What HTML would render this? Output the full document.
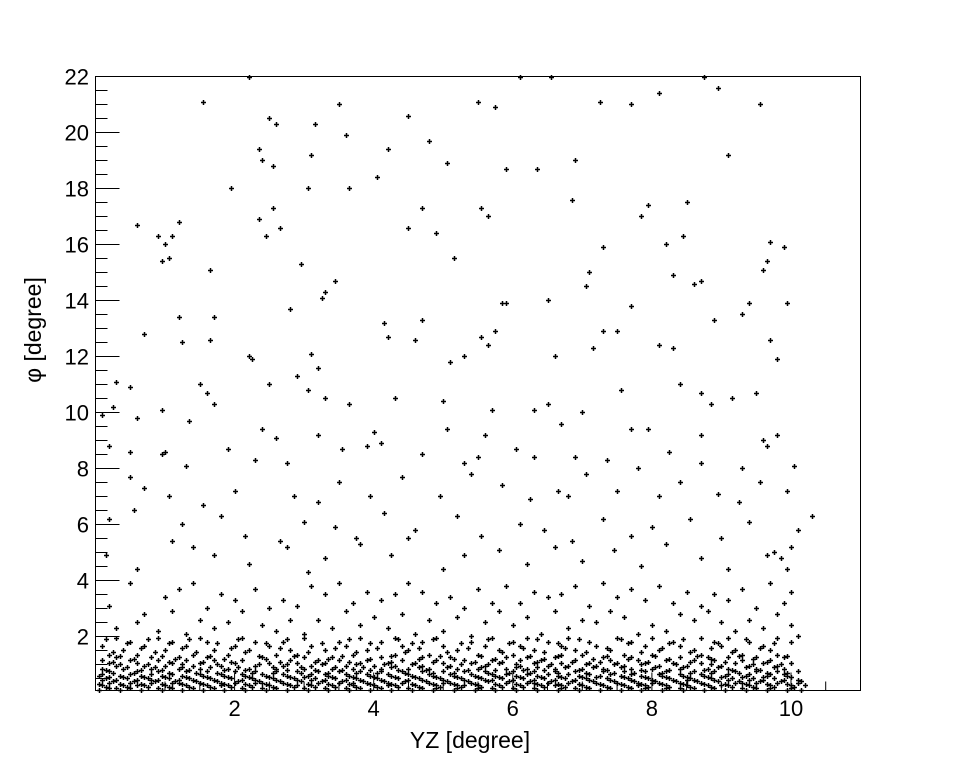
<!DOCTYPE html>
<html><head><meta charset="utf-8"><style>
body{margin:0;background:#fff;}
svg text{font-family:"Liberation Sans",sans-serif;fill:#000;}
</style></head><body>
<svg id="chart" width="956" height="767" xmlns="http://www.w3.org/2000/svg">
<rect width="956" height="767" fill="#fff"/>
<g id="ticks"></g>
<g id="pts"></g>
<rect x="95.5" y="76.5" width="765" height="614" fill="none" stroke="#000" stroke-width="1"/>
<g id="labels"></g>
<text x="470" y="748" font-size="23" text-anchor="middle">YZ [degree]</text>
<text transform="translate(41,330) rotate(-90)" font-size="23" text-anchor="middle">φ [degree]</text>
</svg>
<script>
const xTicks=[2,4,6,8,10];
const yTicks=[2,4,6,8,10,12,14,16,18,20,22];
const upperX=[1.55,2.2,6.1,6.55,8.75,8.1,7.25,5.5,5.75,3.5,7.7,8.95,9.55,2.5,2.6,3.15,4.5,3.6,4.8,2.35,2.4,3.1,4.2,5.05,6.9,4.05,2.55,5.9,6.35,9.1,1.95,3.05,3.65,2.55,2.35,2.65,2.45,4.7,5.55,5.65,6.85,7.95,7.85,8.5,0.6,1.1,1.2,0.9,1.0,1.05,4.5,4.9,5.15,7.3,8.2,8.45,9.9,9.7,9.65,9.6,0.95,1.65,2.95,3.45,3.3,3.25,7.1,7.05,8.3,8.6,8.7,9.4,9.3,5.85,5.9,7.7,1.2,1.7,2.8,4.15,4.7,6.5,8.9,9.95,5.55,5.65,5.75,6.6,7.15,7.3,7.5,8.1,8.3,1.25,1.65,2.2,2.25,3.1,3.2,4.2,4.6,5.3,5.1,9.8,9.7,0.7,0.3,0.5,1.5,1.6,1.7,2.5,2.9,3.05,3.3,4.3,5.0,5.7,6.3,6.5,7.0,7.55,8.4,8.7,8.85,9.15,9.5,0.1,0.25,0.6,0.95,1.35,2.4,3.2,3.65,4.0,5.05,5.6,6.7,7.7,7.95,8.7,9.6,9.8,0.2,0.5,0.95,1.0,1.3,1.9,2.3,2.6,2.75,3.55,3.9,4.1,4.7,5.3,5.5,6.05,6.3,6.9,7.35,7.8,8.25,8.7,9.3,9.65,10.05,0.5,0.7,1.05,1.55,2.0,2.85,3.2,3.5,3.95,4.4,4.95,5.4,5.85,6.25,6.65,6.8,7.05,7.5,8.1,8.4,8.95,9.25,9.55,9.95,10.3,0.2,0.55,1.25,1.8,2.15,2.65,3.0,3.45,3.75,4.15,4.6,5.2,5.55,6.1,6.45,6.85,7.3,7.7,8.0,8.55,9.0,9.4,9.75,9.85,10.1,0.15,0.6,1.1,1.4,1.7,2.2,2.75,3.05,3.3,3.8,4.25,4.5,5.0,5.3,5.8,6.2,6.6,7.0,7.45,7.85,8.2,8.7,9.1,9.65,9.95,10.0];
const upperY=[21.1,22,22,22,22,21.4,21.1,21.1,20.9,21,21,21.6,21,20.5,20.3,20.3,20.6,19.9,19.7,19.4,19,19.2,19.4,18.9,19,18.4,18.8,18.7,18.7,19.2,18,18,18,17.3,16.9,16.6,16.3,17.3,17.3,17,17.6,17.4,17,17.5,16.7,16.3,16.8,16.3,16,15.5,16.6,16.4,15.5,15.9,16,16.3,15.9,16.1,15.4,15.1,15.4,15.1,15.3,14.7,14.3,14.1,15,14.5,14.9,14.6,14.7,13.9,13.5,13.9,13.9,13.8,13.4,13.4,13.7,13.2,13.3,14,13.3,13.9,12.7,12.4,12.9,12,12.3,12.9,12.9,12.4,12.3,12.5,12.6,12,11.9,12.1,11.6,12.7,12.6,12.0,11.8,11.9,12.6,12.8,11.1,10.9,11,10.7,10.3,11,11.3,10.8,10.5,10.5,10.4,10.1,10.1,10.3,10.0,10.8,11,10.7,10.3,10.5,10.7,9.9,10.2,9.8,10.1,9.7,9.4,9.2,10.3,9.3,9.4,9.2,9.6,9.4,9.4,9.2,9.0,9.2,8.8,8.6,8.5,8.6,8.1,8.7,8.3,9.1,8.2,8.7,8.8,8.9,8.5,8.2,8.4,8.7,8.4,8.4,8.3,8.0,8.6,8.2,8.0,8.8,8.1,7.7,7.3,7.0,6.7,7.2,7.0,6.8,7.5,7.0,7.7,7.0,7.8,7.4,6.9,7.2,7.0,7.8,7.2,7.0,7.5,7.1,6.8,7.5,7.2,6.3,6.2,6.5,6.0,6.3,5.6,5.4,6.1,5.9,5.5,6.4,5.8,6.3,5.6,6.0,5.8,5.4,6.2,5.6,5.9,6.2,5.5,6.1,5.0,4.8,5.8,4.9,4.4,5.4,5.2,4.9,4.6,5.2,4.3,4.8,5.3,4.9,5.5,4.4,4.9,5.1,4.6,5.2,4.7,5.1,4.5,5.3,4.8,4.4,4.9,4.4,5.2];
const midX=[0.3,0.7,1.0,1.3,1.6,1.9,2.3,2.6,2.9,3.2,3.5,3.8,4.1,4.4,4.7,5.0,5.3,5.6,5.9,6.2,6.5,6.8,7.1,7.4,7.7,8.0,8.3,8.6,8.9,9.2,9.5,9.8,10.0,0.5,0.9,1.2,1.5,1.8,2.1,2.4,2.7,3.0,3.3,3.6,3.9,4.2,4.5,4.8,5.1,5.4,5.7,6.0,6.3,6.6,6.9,7.2,7.5,7.8,8.1,8.4,8.7,9.0,9.3,9.6,9.9,10.1,0.2,0.6,1.1,1.4,1.7,2.0,2.5,2.8,3.1,3.4,3.7,4.0,4.3,4.6,4.9,5.2,5.5,5.8,6.1,6.4,6.7,7.0,7.3,7.6,7.9,8.2,8.5,8.8,9.1,9.4,9.7,10.0];
const midY=[2.3,2.8,3.4,2.1,3.0,2.5,3.7,2.2,3.1,2.6,3.9,2.4,3.3,2.8,3.6,2.2,3.0,2.5,3.8,2.7,3.4,2.3,3.1,2.9,3.7,2.4,3.2,2.6,3.5,2.2,3.0,2.8,3.6,3.9,2.2,3.7,2.6,3.5,2.9,2.4,3.3,2.1,3.5,2.9,3.6,2.3,3.9,2.6,3.4,2.0,3.2,2.4,3.6,2.9,3.8,2.5,3.4,2.1,3.8,2.8,3.1,2.5,3.7,2.3,3.2,2.0,3.1,2.5,2.9,3.9,2.3,3.3,3.0,2.6,3.8,2.3,3.2,2.7,3.5,2.1,3.2,2.7,3.7,2.9,3.2,2.1,3.5,2.6,3.9,2.7,3.3,2.2,3.6,2.9,3.3,2.6,3.9,2.4];
// dense band: y value, then x positions (tenths of degree)
const bandY=[0.15,0.25,0.35,0.45,0.55,0.65,0.75,0.85,0.95,1.05,1.15,1.25,1.35,1.5,1.65,1.8,1.95,
0.1,0.2,0.3,0.4,0.5,0.6,0.7,0.8,0.9,1.0,1.1,1.2,1.3,1.45,1.6,1.75,1.9];
const bandXs=[
"2 5 9 14 17 21 26 30 33 38 41 45 49 52 57 60 63 67 71 74 79 82 86 89 93 97 100 3 11 24 36 47 55 69 77 84 95",
"1 4 7 10 13 16 19 22 25 28 31 34 37 40 43 46 49 52 55 58 61 64 67 70 73 76 79 82 85 88 91 94 97 100 102 6 18 29 42 53 66 78 90",
"2 5 8 11 15 18 20 24 27 32 35 39 42 44 48 51 54 59 62 65 68 72 75 78 81 84 87 92 95 98 101 12 23 37 50 63 80 93",
"1 3 6 9 12 14 17 21 23 26 29 33 36 38 41 45 47 50 53 56 60 63 66 69 71 74 77 80 83 86 89 91 94 96 99 101 8 31 57 85",
"2 4 7 10 13 16 19 22 25 28 30 34 37 40 43 46 49 52 55 58 61 64 67 70 72 76 79 82 85 88 90 93 96 100",
"1 5 8 11 15 18 21 24 27 31 33 36 39 42 45 48 51 54 57 59 62 65 68 71 74 77 81 84 87 91 94 97 99",
"2 6 9 13 16 20 23 26 29 32 35 38 41 44 47 50 53 56 60 63 66 69 73 76 79 82 86 89 92 95 98 101",
"1 4 8 12 15 19 22 26 30 34 37 41 45 48 52 55 59 62 66 70 73 77 80 84 88 91 95 99",
"3 7 10 14 18 23 27 31 36 40 43 47 51 56 61 65 68 72 76 81 85 90 94 98",
"2 6 11 15 20 25 29 33 38 42 46 50 54 58 63 67 71 75 79 83 87 92 96 100",
"1 5 9 13 17 21 28 32 35 39 44 49 53 57 61 64 69 74 78 82 86 89 93 97",
"3 8 12 16 24 30 34 41 47 51 59 62 66 73 77 84 88 91 95 99",
"2 6 14 19 26 29 37 43 48 55 60 67 70 76 80 87 93 98",
"4 10 17 22 28 33 39 45 52 58 63 69 74 81 86 92 97",
"1 7 13 20 25 31 36 44 50 56 61 67 72 79 84 90 96",
"5 11 16 23 27 35 41 47 54 60 65 71 77 83 89 94 100",
"3 9 15 21 30 38 43 49 57 62 68 75 80 87 91 98",
"0.5 3.5 6.5 9.5 12.5 15.5 18.5 21.5 24.5 27.5 30.5 33.5 36.5 39.5 42.5 45.5 48.5 51.5 54.5 57.5 60.5 63.5 66.5 69.5 72.5 75.5 78.5 81.5 84.5 87.5 90.5 93.5 96.5 99.5 101.5",
"1.5 4.5 7.5 10.5 13.5 16.5 19.5 22.5 25.5 28.5 31.5 34.5 37.5 40.5 43.5 46.5 49.5 52.5 55.5 58.5 61.5 64.5 67.5 70.5 73.5 76.5 79.5 82.5 85.5 88.5 91.5 94.5 97.5 100.5",
"0.5 3.5 6.5 9.5 12.5 15.5 18.5 21.5 24.5 27.5 30.5 33.5 36.5 39.5 42.5 45.5 48.5 51.5 54.5 57.5 60.5 63.5 66.5 69.5 72.5 75.5 78.5 81.5 84.5 87.5 90.5 93.5 96.5 99.5",
"2.5 5.5 8.5 11.5 14.5 17.5 20.5 23.5 26.5 29.5 32.5 35.5 38.5 41.5 44.5 47.5 50.5 53.5 56.5 59.5 62.5 65.5 68.5 71.5 74.5 77.5 80.5 83.5 86.5 89.5 92.5 95.5 98.5 101.5",
"1.5 4.5 7.5 10.5 13.5 16.5 19.5 22.5 25.5 28.5 31.5 34.5 37.5 40.5 43.5 46.5 49.5 52.5 55.5 58.5 61.5 64.5 67.5 70.5 73.5 76.5 79.5 82.5 85.5 88.5 91.5 94.5 97.5",
"0.5 3.5 6.5 9.5 12.5 15.5 18.5 21.5 24.5 27.5 30.5 33.5 36.5 39.5 42.5 45.5 48.5 51.5 54.5 57.5 60.5 63.5 66.5 69.5 72.5 75.5 78.5 81.5 84.5 87.5 90.5 93.5 96.5 99.5",
"2.5 5.5 10.5 14.5 17.5 22.5 25.5 29.5 33.5 37.5 40.5 44.5 48.5 51.5 56.5 59.5 62.5 66.5 70.5 74.5 77.5 81.5 85.5 88.5 92.5 96.5 99.5",
"1.5 6.5 9.5 13.5 18.5 21.5 27.5 31.5 35.5 39.5 43.5 47.5 53.5 57.5 61.5 64.5 69.5 73.5 78.5 82.5 87.5 91.5 95.5",
"4.5 8.5 12.5 16.5 20.5 25.5 29.5 34.5 38.5 42.5 46.5 50.5 55.5 60.5 63.5 67.5 71.5 75.5 80.5 84.5 89.5 93.5 97.5",
"3.5 7.5 12.5 17.5 23.5 27.5 32.5 37.5 41.5 45.5 52.5 56.5 60.5 65.5 70.5 74.5 78.5 83.5 88.5 94.5 98.5",
"2.5 10.5 15.5 19.5 26.5 31.5 36.5 42.5 48.5 54.5 58.5 63.5 68.5 72.5 79.5 85.5 90.5 96.5",
"5.5 11.5 18.5 24.5 33.5 39.5 46.5 51.5 57.5 64.5 71.5 76.5 82.5 88.5 94.5",
"3.5 9.5 16.5 23.5 28.5 35.5 42.5 49.5 55.5 62.5 66.5 73.5 80.5 86.5 92.5 99.5",
"2.5 8.5 14.5 21.5 30.5 37.5 44.5 50.5 58.5 64.5 70.5 78.5 85.5 91.5",
"6.5 12.5 19.5 26.5 34.5 40.5 46.5 53.5 61.5 67.5 73.5 81.5 88.5 95.5",
"4.5 10.5 17.5 24.5 32.5 39.5 45.5 52.5 59.5 66.5 76.5 82.5 89.5 97.5",
"1.5 7.5 13.5 20.5 27.5 36.5 43.5 48.5 56.5 63.5 69.5 75.5 84.5 93.5"];
const xs=[...upperX,...midX];
const ys=[...upperY,...midY];
bandY.forEach((y,i)=>(bandXs[i]||'').split(' ').filter(s=>s).forEach(v=>{xs.push(+v/10);ys.push(y);}));

const L=95.5,R=860.5,T=76.5,B=690.5,XMIN=0,XMAX=11,YMIN=0.07,YMAX=22;
const sx=v=>L+(v-XMIN)/(XMAX-XMIN)*(R-L);
const sy=v=>B-(v-YMIN)/(YMAX-YMIN)*(B-T);
const NS='http://www.w3.org/2000/svg';
const tg=document.getElementById('ticks'),pg=document.getElementById('pts'),lg=document.getElementById('labels');
let d='';
for(let v=0.5;v<=22.01;v+=0.5){const y=sy(v);const major=Math.abs(v/2-Math.round(v/2))<1e-6;d+=`M${L} ${y.toFixed(1)}h${major?24:12}`;}
for(let v=0.5;v<=11.01;v+=0.5){const x=sx(v);const major=Math.abs(v/2-Math.round(v/2))<1e-6;d+=`M${x.toFixed(1)} ${B}v-${major?18:9}`;}
const tp=document.createElementNS(NS,'path');tp.setAttribute('d',d);tp.setAttribute('stroke','#000');tp.setAttribute('fill','none');


tg.appendChild(tp);
let pd='';
for(let i=0;i<xs.length;i++){const x=Math.round(sx(xs[i])),y=Math.round(sy(ys[i]));pd+=`M${x-2} ${y+0.5}h5M${x+0.5} ${y-2}v5`;}
const pp=document.createElementNS(NS,'path');pp.setAttribute('d',pd);pp.setAttribute('stroke','#000');pp.setAttribute('stroke-width','1.5');pp.setAttribute('fill','none');


pg.appendChild(pp);
xTicks.forEach(v=>{const t=document.createElementNS(NS,'text');t.setAttribute('x',sx(v));t.setAttribute('y',716);t.setAttribute('font-size','22');t.setAttribute('text-anchor','middle');t.textContent=v;


lg.appendChild(t);});
yTicks.forEach(v=>{const t=document.createElementNS(NS,'text');t.setAttribute('x',89);t.setAttribute('y',sy(v)+8);t.setAttribute('font-size','22');t.setAttribute('text-anchor','end');t.textContent=v;


lg.appendChild(t);});
</script>
</body></html>
